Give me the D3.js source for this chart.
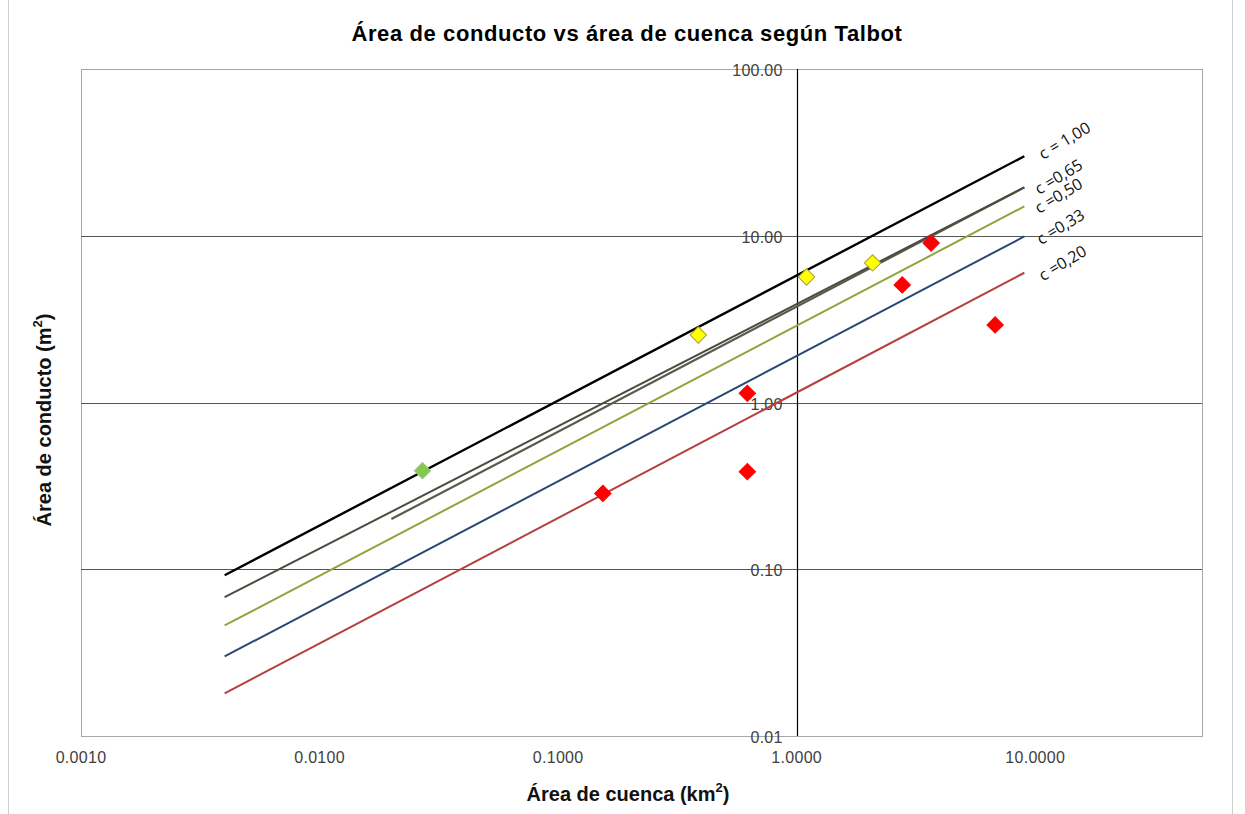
<!DOCTYPE html>
<html>
<head>
<meta charset="utf-8">
<script src="https://cdn.jsdelivr.net/npm/d3@7"></script>
<style>
  html, body { margin: 0; padding: 0; background: #fff; }
  svg { display: block; }
</style>
</head>
<body>
<svg id="chart" width="1245" height="814"></svg>
<script>
// Talbot curves: culvert area (m²) vs basin area (km²), one straight segment per coefficient
const curveNames  = ["c = 1,00", "c =0,65", "c =0,50", "c =0,33", "c =0,20"];
const curveColors = ["#000000", "#4d4b3e", "#8ca63e", "#2a4876", "#b5403e"];
const curveStartX = [0.004, 0.004, 0.004, 0.004, 0.004];
const curveStartY = [0.092, 0.068, 0.046, 0.030, 0.018];
const curveEndX   = [9, 9, 9, 9, 9];
const curveEndY   = [30.0, 19.5, 15.0, 9.9, 6.0];

// second c = 0,65 segment starting at 0.02 km²
const extraLine = { x: [0.02, 9], y: [0.20, 19.5], color: "#5a5a4e" };

// observed culverts
const greenPts  = { x: [0.027], y: [0.39] };
const yellowPts = { x: [0.387, 1.10, 2.08], y: [2.54, 5.66, 6.87] };
const redPts    = { x: [3.66, 2.77, 6.79, 0.621, 0.621, 0.154], y: [9.05, 5.07, 2.92, 1.135, 0.385, 0.285] };

// axis ticks
const xTicks = [0.001, 0.01, 0.1, 1, 10];
const xTickLabels = ["0.0010", "0.0100", "0.1000", "1.0000", "10.0000"];
const yTicks = [0.01, 0.1, 1, 10, 100];
const yTickLabels = ["0.01", "0.10", "1.00", "10.00", "100.00"];

const svg = d3.select("#chart");
const plot = { left: 81, right: 1202, top: 69, bottom: 736 };

const x = d3.scaleLog().domain([0.001, 50]).range([plot.left, plot.right]);
const y = d3.scaleLog().domain([0.01, 100]).range([plot.bottom, plot.top]);

// outer chart frame
svg.append("line").attr("x1", 8.5).attr("x2", 8.5).attr("y1", 0).attr("y2", 814)
  .attr("stroke", "#cfcfcf");
svg.append("line").attr("x1", 1232.5).attr("x2", 1232.5).attr("y1", 0).attr("y2", 814)
  .attr("stroke", "#cfcfcf");

// plot area border
svg.append("rect")
  .attr("x", plot.left + 0.5).attr("y", plot.top + 0.5)
  .attr("width", plot.right - plot.left).attr("height", plot.bottom - plot.top)
  .attr("fill", "#fff").attr("stroke", "#a8a8a8");

// horizontal gridlines (inner decades)
svg.append("g").selectAll("line")
  .data(yTicks.filter(v => v > 0.01 && v < 100))
  .join("line")
  .attr("x1", plot.left).attr("x2", plot.right)
  .attr("y1", d => Math.round(y(d)) + 0.5).attr("y2", d => Math.round(y(d)) + 0.5)
  .attr("stroke", "#555555").attr("stroke-width", 1);

// vertical axis crossing at 1 km²
const axisX = Math.round(x(1)) + 0.5;
svg.append("line")
  .attr("x1", axisX).attr("x2", axisX)
  .attr("y1", plot.top).attr("y2", plot.bottom)
  .attr("stroke", "#000").attr("stroke-width", 1.2);

// y tick labels, left of the vertical axis
svg.append("g").selectAll("text")
  .data(yTicks)
  .join("text")
  .attr("x", axisX - 15)
  .attr("y", d => y(d) + 1.5)
  .attr("text-anchor", "end")
  .attr("dominant-baseline", "central")
  .attr("font-family", "Liberation Sans, Arial, sans-serif")
  .attr("font-size", 16)
  .attr("letter-spacing", 0.2)
  .attr("fill", "#404040")
  .text((d, i) => yTickLabels[i]);

// x tick labels under the plot
svg.append("g").selectAll("text")
  .data(xTicks)
  .join("text")
  .attr("x", d => x(d))
  .attr("y", 757)
  .attr("text-anchor", "middle")
  .attr("dominant-baseline", "central")
  .attr("font-family", "Liberation Sans, Arial, sans-serif")
  .attr("font-size", 16)
  .attr("letter-spacing", 0.3)
  .attr("fill", "#404040")
  .text((d, i) => xTickLabels[i]);

// curves
const lineGen = d3.line().x(d => x(d[0])).y(d => y(d[1]));
const curves = curveNames.map((name, i) => ({
  name, color: curveColors[i],
  pts: [[curveStartX[i], curveStartY[i]], [curveEndX[i], curveEndY[i]]]
}));

svg.append("path")
  .attr("d", lineGen([[extraLine.x[0], extraLine.y[0]], [extraLine.x[1], extraLine.y[1]]]))
  .attr("fill", "none").attr("stroke", extraLine.color).attr("stroke-width", 2.2);

svg.append("g").selectAll("path")
  .data(curves)
  .join("path")
  .attr("d", d => lineGen(d.pts))
  .attr("fill", "none")
  .attr("stroke", d => d.color)
  .attr("stroke-width", (d, i) => i === 0 ? 2.4 : 2);

// curve labels along the right ends
const labelOffsets = [[40, -16], [34, -11], [34, -11], [36, -10], [38, -10]];
svg.append("g").selectAll("text")
  .data(curves)
  .join("text")
  .attr("transform", (d, i) => {
    const px = x(d.pts[1][0]) + labelOffsets[i][0];
    const py = y(d.pts[1][1]) + labelOffsets[i][1];
    return `translate(${px},${py}) rotate(-31)`;
  })
  .attr("text-anchor", "middle")
  .attr("dominant-baseline", "central")
  .attr("font-family", "Open Sans, Noto Sans, sans-serif")
  .attr("font-size", 16)
  .attr("fill", "#111")
  .text(d => d.name);

// diamond markers (squares turned 45°)
function drawPts(set, fill, stroke) {
  svg.append("g").selectAll("path")
    .data(set.x.map((v, i) => [v, set.y[i]]))
    .join("path")
    .attr("d", d3.symbol().type(d3.symbolSquare).size(135))
    .attr("transform", d => `translate(${x(d[0])},${y(d[1])}) rotate(45)`)
    .attr("fill", fill)
    .attr("stroke", stroke)
    .attr("stroke-width", 1);
}
drawPts(greenPts, "#86c84f", "#9fc97a");
drawPts(yellowPts, "#ffff00", "#a8a040");
drawPts(redPts, "#ff0000", "#ff0000");

// titles
svg.append("text")
  .attr("x", 627).attr("y", 33)
  .attr("text-anchor", "middle")
  .attr("dominant-baseline", "central")
  .attr("font-family", "Liberation Sans, Arial, sans-serif")
  .attr("font-size", 22)
  .attr("font-weight", "bold")
  .attr("letter-spacing", 0.6)
  .attr("fill", "#000")
  .text("Área de conducto vs área de cuenca según Talbot");

const xTitle = svg.append("text")
  .attr("x", 628).attr("y", 794)
  .attr("text-anchor", "middle")
  .attr("dominant-baseline", "central")
  .attr("font-family", "Liberation Sans, Arial, sans-serif")
  .attr("font-size", 20)
  .attr("font-weight", "bold")
  .attr("fill", "#111");
xTitle.append("tspan").text("Área de cuenca (km");
xTitle.append("tspan").attr("font-size", 13).attr("dy", -7).text("2");
xTitle.append("tspan").attr("dy", 7).text(")");

const yTitle = svg.append("text")
  .attr("transform", "translate(44,420) rotate(-90)")
  .attr("text-anchor", "middle")
  .attr("dominant-baseline", "central")
  .attr("font-family", "Liberation Sans, Arial, sans-serif")
  .attr("font-size", 20)
  .attr("font-weight", "bold")
  .attr("fill", "#111");
yTitle.append("tspan").text("Área de conducto (m");
yTitle.append("tspan").attr("font-size", 13).attr("dy", -7).text("2");
yTitle.append("tspan").attr("dy", 7).text(")");
</script>
</body>
</html>
